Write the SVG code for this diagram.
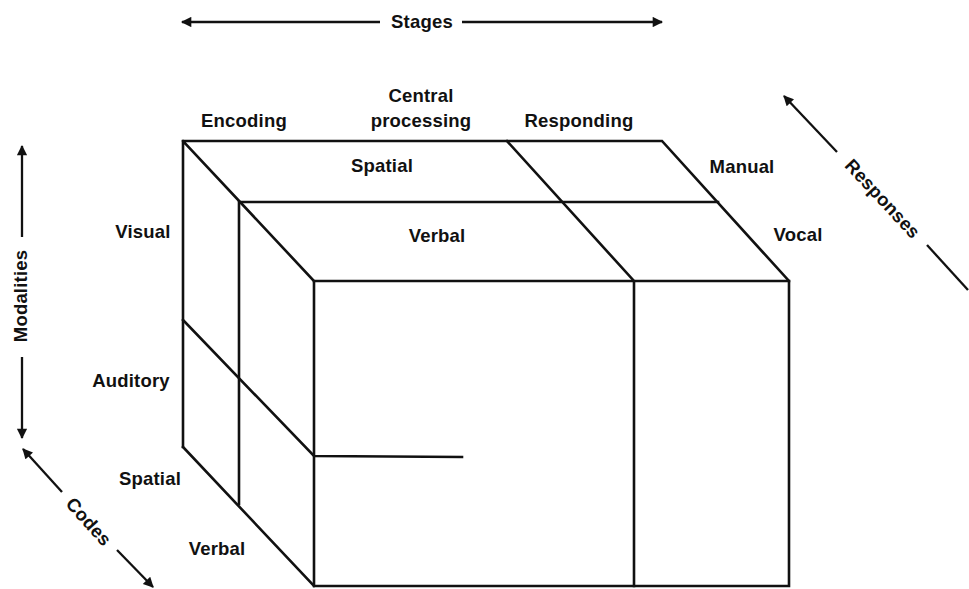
<svg xmlns="http://www.w3.org/2000/svg" width="969" height="589" viewBox="0 0 969 589">
  <defs>
    <marker id="head" viewBox="0 0 10 10" refX="9" refY="5" markerWidth="5" markerHeight="4.5" orient="auto-start-reverse" markerUnits="strokeWidth">
      <path d="M0,0 L10,5 L0,10 Z" fill="#111"/>
    </marker>
  </defs>
  <style>
    .edge { stroke: #111; stroke-width: 2.6; fill: none; stroke-linecap: square; stroke-linejoin: miter; }
    .axis { stroke: #111; stroke-width: 2.3; fill: none; }
    .lbl { font-family: "Liberation Sans", Arial, sans-serif; font-weight: bold; font-size: 18.5px; letter-spacing: 0.2px; fill: #111; text-anchor: middle; }
  </style>
  <rect width="969" height="589" fill="#fff"/>

  <!-- Cube edges -->
  <g id="cube">
    <!-- outline of top, left side and front -->
    <polyline class="edge" points="183,447 183,141 662,141 789,281 789,586 314,586 314,281 183,141"/>
    <line class="edge" x1="314" y1="281" x2="789" y2="281"/>
    <line class="edge" x1="183" y1="447" x2="314" y2="586"/>
    <!-- spatial/verbal split (codes axis) -->
    <line class="edge" x1="240" y1="202" x2="718" y2="202"/>
    <line class="edge" x1="239" y1="202" x2="239" y2="504"/>
    <!-- central processing / responding split -->
    <polyline class="edge" points="507,141 634,281 634,586"/>
    <!-- visual/auditory split -->
    <polyline class="edge" points="183,320 314,456 462,457"/>
  </g>

  <!-- Axis arrows -->
  <g id="connectors">
    <line class="axis" x1="380" y1="22" x2="182" y2="22" marker-end="url(#head)"/>
    <line class="axis" x1="462" y1="22" x2="662" y2="22" marker-end="url(#head)"/>
    <line class="axis" x1="22" y1="237" x2="22" y2="146" marker-end="url(#head)"/>
    <line class="axis" x1="22" y1="357" x2="22" y2="438" marker-end="url(#head)"/>
    <line class="axis" x1="62" y1="492" x2="23" y2="449" marker-end="url(#head)"/>
    <line class="axis" x1="117" y1="550" x2="153" y2="587" marker-end="url(#head)"/>
    <line class="axis" x1="837" y1="152" x2="784" y2="96" marker-end="url(#head)"/>
    <line class="axis" x1="927" y1="245" x2="968" y2="290"/>
  </g>

  <!-- Axis titles -->
  <g id="axis-titles">
    <text class="lbl" x="422" y="28">Stages</text>
    <text class="lbl" transform="translate(27,296) rotate(-90)">Modalities</text>
    <text class="lbl" transform="translate(84,526) rotate(48)">Codes</text>
    <text class="lbl" transform="translate(878,203) rotate(47)">Responses</text>
  </g>

  <!-- Stage labels -->
  <g id="stages">
    <text class="lbl" x="244" y="127">Encoding</text>
    <text class="lbl" x="421" y="102">Central</text>
    <text class="lbl" x="421" y="127">processing</text>
    <text class="lbl" x="579" y="127">Responding</text>
  </g>

  <!-- Code labels on top face and left -->
  <g id="codes">
    <text class="lbl" x="382" y="172">Spatial</text>
    <text class="lbl" x="437" y="242">Verbal</text>
    <text class="lbl" x="150" y="485">Spatial</text>
    <text class="lbl" x="217" y="555">Verbal</text>
  </g>

  <!-- Response labels -->
  <g id="responses">
    <text class="lbl" x="742" y="173">Manual</text>
    <text class="lbl" x="798" y="241">Vocal</text>
  </g>

  <!-- Modality labels -->
  <g id="modalities">
    <text class="lbl" x="143" y="238">Visual</text>
    <text class="lbl" x="131" y="387">Auditory</text>
  </g>
</svg>
